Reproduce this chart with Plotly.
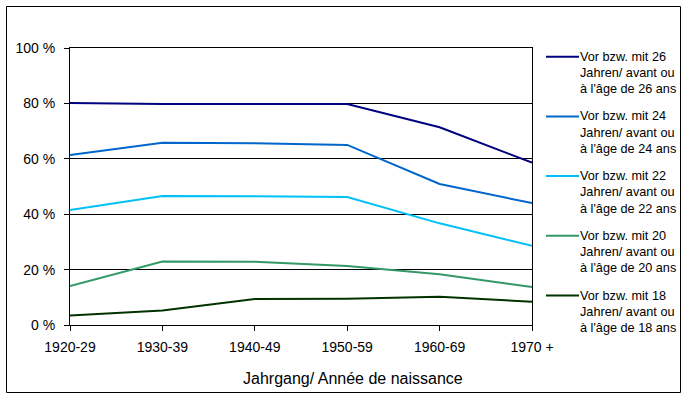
import plotly.graph_objects as go

categories = ["1920-29", "1930-39", "1940-49", "1950-59", "1960-69", "1970 +"]
legend_lines = [
    ["Vor bzw. mit 26", "Jahren/ avant ou", "à l'âge de 26 ans"],
    ["Vor bzw. mit 24", "Jahren/ avant ou", "à l'âge de 24 ans"],
    ["Vor bzw. mit 22", "Jahren/ avant ou", "à l'âge de 22 ans"],
    ["Vor bzw. mit 20", "Jahren/ avant ou", "à l'âge de 20 ans"],
    ["Vor bzw. mit 18", "Jahren/ avant ou", "à l'âge de 18 ans"],
]
age26 = [80.1, 79.8, 79.8, 79.8, 71.4, 58.6]
age24 = [61.4, 65.8, 65.6, 65.0, 50.9, 44.0]
age22 = [41.5, 46.6, 46.5, 46.2, 36.7, 28.6]
age20 = [14.1, 22.9, 22.8, 21.3, 18.3, 13.7]
age18 = [3.4, 5.2, 9.4, 9.5, 10.2, 8.4]
colors = ["#000080", "#0066CC", "#00C0F8", "#339966", "#003300"]
y_ticks = [0, 20, 40, 60, 80, 100]
y_ticktext = ["0 %", "20 %", "40 %", "60 %", "80 %", "100 %"]

FONT = "Liberation Sans, Arial, sans-serif"
W, H = 688, 399
L, R, T, B = 70, 156, 48, 74
pw, ph = W - L - R, H - T - B

def px_x(x):
    return (x - L) / pw

def px_y(y):
    return (H - B - y) / ph

fig = go.Figure()
xpos = list(range(len(categories)))
all_series = [age26, age24, age22, age20, age18]
for i, vals in enumerate(all_series):
    fig.add_trace(go.Scatter(
        x=xpos, y=vals, mode="lines", name=" / ".join(legend_lines[i]), showlegend=False,
        line=dict(color=colors[i], width=2), hoverinfo="skip",
    ))

# manual legend (layout elements)
shapes = [dict(
    type="rect", xref="paper", yref="paper",
    x0=px_x(6.5), x1=px_x(680.5), y0=px_y(392.5), y1=px_y(6.5),
    line=dict(color="black", width=1), fillcolor="rgba(0,0,0,0)", layer="above",
)]
annotations = [dict(
    text="Jahrgang/ Année de naissance", xref="paper", yref="paper",
    x=px_x(353), y=px_y(378), xanchor="center", yanchor="middle",
    showarrow=False, font=dict(family=FONT, size=16, color="black"),
)]
leg_top = 56.7
leg_step = 59.7
line_step = 16.2
for i, lines in enumerate(legend_lines):
    yc = leg_top + leg_step * i
    shapes.append(dict(
        type="line", xref="paper", yref="paper",
        x0=px_x(546), x1=px_x(579), y0=px_y(yc), y1=px_y(yc),
        line=dict(color=colors[i], width=2),
    ))
    for j, t in enumerate(lines):
        annotations.append(dict(
            text=t, xref="paper", yref="paper",
            x=px_x(578), y=px_y(yc + line_step * j), xanchor="left", yanchor="middle",
            showarrow=False, font=dict(family=FONT, size=12.7, color="black"),
        ))

fig.update_layout(
    width=W, height=H,
    margin=dict(l=L, r=R, t=T, b=B, pad=0, autoexpand=False),
    paper_bgcolor="white", plot_bgcolor="white",
    font=dict(family=FONT, size=14, color="black"),
    showlegend=False,
    xaxis=dict(
        range=[0, len(categories) - 1], tickvals=xpos, ticktext=categories,
        showgrid=False, zeroline=False, showline=True, linecolor="black", linewidth=1,
        mirror=True, ticks="outside", ticklen=5, tickcolor="black", tickwidth=1,
        ticklabelstandoff=4,
        tickfont=dict(family=FONT, size=14), fixedrange=True, automargin=False,
    ),
    yaxis=dict(
        range=[0, 100], tickvals=y_ticks, ticktext=y_ticktext,
        showgrid=True, gridcolor="black", gridwidth=1, zeroline=False,
        showline=True, linecolor="black", linewidth=1, mirror=True,
        ticks="outside", ticklen=5, tickcolor="black", tickwidth=1,
        ticklabelstandoff=6,
        tickfont=dict(family=FONT, size=14), fixedrange=True, automargin=False,
    ),
    annotations=annotations,
    shapes=shapes,
)

fig.write_html(
    "out.html",
    config={"displayModeBar": False},
    post_script="document.body.style.margin='0';document.body.style.overflow='hidden';",
)
